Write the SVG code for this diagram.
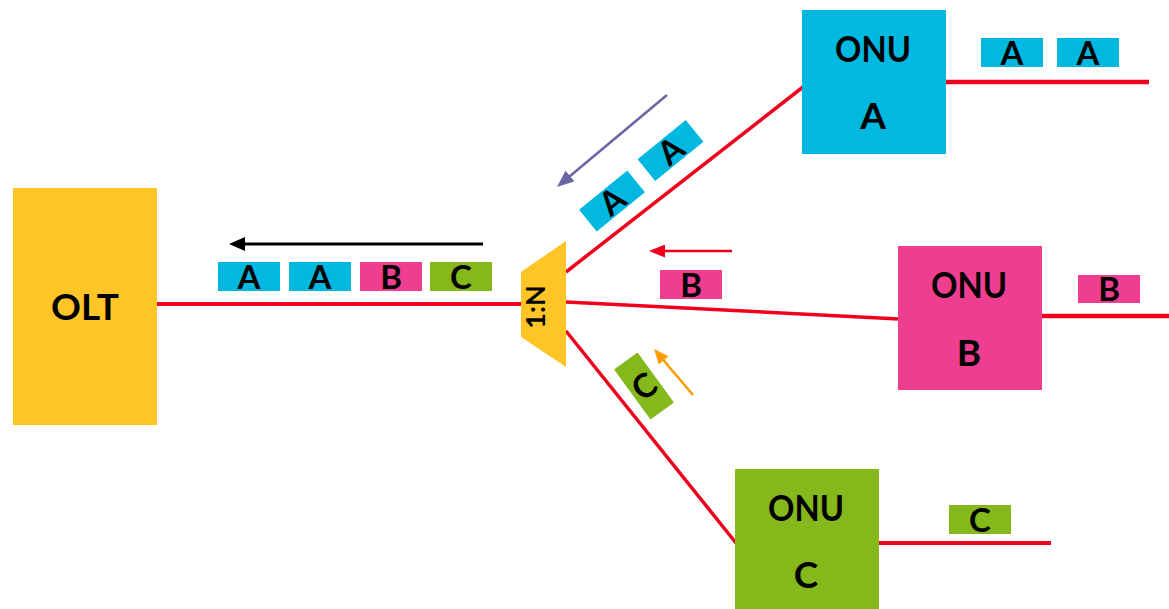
<svg xmlns="http://www.w3.org/2000/svg" width="1169" height="609" viewBox="0 0 1169 609">
  <style>
    .lbl { font-family: Lato, "Open Sans", "Liberation Sans", sans-serif; font-weight: bold; fill: #000; text-anchor: middle; }
    .big { font-size: 37px; }
    .pk { font-size: 33px; }
    .fiber { stroke: #F0001C; fill: none; }
    .cyan { fill: #00B8E0; }
    .pink { fill: #EF3D8F; }
    .green { fill: #85B81A; }
    .yellow { fill: #FFC526; }
  </style>
  <defs>
    <marker id="ah-black" viewBox="0 0 10 10" refX="5" refY="5" markerWidth="16" markerHeight="14" markerUnits="userSpaceOnUse" orient="auto" preserveAspectRatio="none"><path d="M0,0 L10,5 L0,10 z" fill="#000"/></marker>
    <marker id="ah-purple" viewBox="0 0 10 10" refX="5" refY="5" markerWidth="17" markerHeight="14" markerUnits="userSpaceOnUse" orient="auto" preserveAspectRatio="none"><path d="M0,0 L10,5 L0,10 z" fill="#6A66A3"/></marker>
    <marker id="ah-red" viewBox="0 0 10 10" refX="5" refY="5" markerWidth="16" markerHeight="13" markerUnits="userSpaceOnUse" orient="auto" preserveAspectRatio="none"><path d="M0,0 L10,5 L0,10 z" fill="#F0001C"/></marker>
    <marker id="ah-orange" viewBox="0 0 10 10" refX="5" refY="5" markerWidth="15" markerHeight="13" markerUnits="userSpaceOnUse" orient="auto" preserveAspectRatio="none"><path d="M0,0 L10,5 L0,10 z" fill="#FF9A00"/></marker>
  </defs>

  <g id="connectors">
    <line class="fiber" x1="157" y1="304" x2="522" y2="304" stroke-width="4"/>
    <line class="fiber" x1="566" y1="272" x2="803" y2="87" stroke-width="3.5"/>
    <line class="fiber" x1="566" y1="302" x2="899" y2="319" stroke-width="3.5"/>
    <line class="fiber" x1="566" y1="331" x2="736" y2="543" stroke-width="3.5"/>
    <line class="fiber" x1="946" y1="82" x2="1149" y2="82" stroke-width="4.5"/>
    <line class="fiber" x1="1040" y1="316" x2="1169" y2="316" stroke-width="4.5"/>
    <line class="fiber" x1="879" y1="543" x2="1051" y2="543" stroke-width="4"/>
  </g>

  <g id="flow-arrows">
    <line x1="483" y1="244" x2="237" y2="244" stroke="#000" stroke-width="3" marker-end="url(#ah-black)"/>
    <line x1="667" y1="95" x2="563.5" y2="181.5" stroke="#6A66A3" stroke-width="2.5" marker-end="url(#ah-purple)"/>
    <line x1="732" y1="251" x2="657" y2="251" stroke="#F0001C" stroke-width="2.5" marker-end="url(#ah-red)"/>
    <line x1="693" y1="395" x2="658.9" y2="354.7" stroke="#FF9A00" stroke-width="2.5" marker-end="url(#ah-orange)"/>
  </g>

  <g id="olt">
    <rect class="yellow" x="13" y="188" width="144" height="237"/>
    <text class="lbl big" x="85" y="320">OLT</text>
  </g>

  <g id="splitter">
    <polygon class="yellow" points="521,272 566,241 566,367 521,337"/>
    <text class="lbl" font-size="27" transform="translate(545,307) rotate(-90)" x="0" y="0">1:N</text>
  </g>

  <g id="onu-a">
    <rect class="cyan" x="802" y="10" width="144" height="144"/>
    <text class="lbl big" x="873" y="62" textLength="76" lengthAdjust="spacingAndGlyphs">ONU</text>
    <text class="lbl big" x="873" y="129">A</text>
  </g>

  <g id="onu-b">
    <rect class="pink" x="898" y="246" width="144" height="144"/>
    <text class="lbl big" x="969" y="298" textLength="76" lengthAdjust="spacingAndGlyphs">ONU</text>
    <text class="lbl big" x="969" y="366">B</text>
  </g>

  <g id="onu-c">
    <rect class="green" x="735" y="469" width="144" height="141"/>
    <text class="lbl big" x="806" y="521" textLength="76" lengthAdjust="spacingAndGlyphs">ONU</text>
    <text class="lbl big" x="806" y="588">C</text>
  </g>

  <g id="packets-olt">
    <rect class="cyan" x="218" y="262" width="62" height="29"/>
    <text class="lbl pk" x="249" y="289">A</text>
    <rect class="cyan" x="289" y="262" width="62" height="29"/>
    <text class="lbl pk" x="320" y="289">A</text>
    <rect class="pink" x="360" y="262" width="62" height="29"/>
    <text class="lbl pk" x="391" y="289">B</text>
    <rect class="green" x="430" y="262" width="62" height="29"/>
    <text class="lbl pk" x="461" y="289">C</text>
  </g>

  <g id="packets-link-a">
    <g transform="translate(612,201) rotate(-39)">
      <rect class="cyan" x="-31" y="-14" width="62" height="28"/>
      <text class="lbl pk" x="0" y="12">A</text>
    </g>
    <g transform="translate(670.5,150.5) rotate(-39)">
      <rect class="cyan" x="-31" y="-14" width="62" height="28"/>
      <text class="lbl pk" x="0" y="12">A</text>
    </g>
  </g>

  <g id="packet-link-b">
    <rect class="pink" x="660" y="270" width="62" height="29"/>
    <text class="lbl pk" x="691" y="297">B</text>
  </g>

  <g id="packet-link-c">
    <g transform="translate(644,386)">
      <rect class="green" x="-31" y="-14.5" width="62" height="29" transform="rotate(54)"/>
      <text class="lbl pk" x="0" y="12" transform="rotate(-36)">C</text>
    </g>
  </g>

  <g id="packets-onu-a">
    <rect class="cyan" x="981" y="38" width="62" height="29"/>
    <text class="lbl pk" x="1012" y="65">A</text>
    <rect class="cyan" x="1057" y="38" width="62" height="29"/>
    <text class="lbl pk" x="1088" y="65">A</text>
  </g>

  <g id="packet-onu-b">
    <rect class="pink" x="1078" y="275" width="62" height="28"/>
    <text class="lbl pk" x="1109" y="301">B</text>
  </g>

  <g id="packet-onu-c">
    <rect class="green" x="949" y="505" width="62" height="29"/>
    <text class="lbl pk" x="980" y="532">C</text>
  </g>
</svg>
